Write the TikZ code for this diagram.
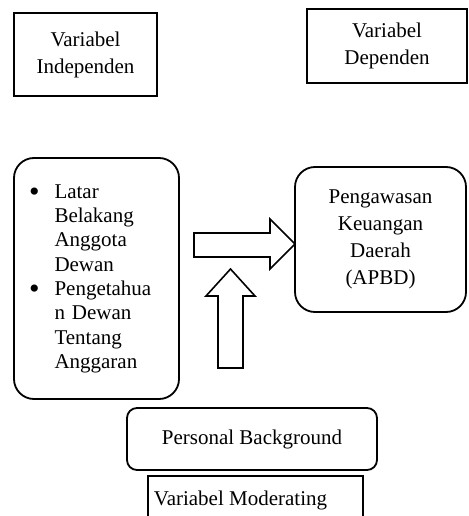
\documentclass[tikz,border=0pt]{standalone}
\usepackage{fontspec}
\setmainfont{Liberation Serif}
\newcommand{\bigbullet}{\raisebox{-3pt}{\fontsize{30}{24}\selectfont\textbullet}}
\begin{document}
\begin{tikzpicture}[x=1pt, y=-1pt, line width=1.8pt,
    box/.style={draw, align=center, inner sep=0pt, font=\fontsize{21}{27}\selectfont},
    roundbox/.style={box, rounded corners=20pt},
    blockarrow/.style={draw, line width=1.6pt, line join=miter}]
\useasboundingbox (0,0) rectangle (468,516);

\node[box, minimum width=143pt, minimum height=83pt] (indep) at (85.5,54.5) {Variabel\\Independen};
\node[box, minimum width=160pt, minimum height=74pt] (dep) at (387,46) {Variabel\\Dependen};

\node[roundbox, minimum width=165pt, minimum height=241pt, text width=135pt, align=left,
      font=\fontsize{21}{24.3}\selectfont] (latar) at (96.5,278.5)
  {\begin{tabular}{@{}l@{\hspace{15pt}}l@{}}
   \bigbullet & Latar\\
              & Belakang\\
              & Anggota\\
              & Dewan\\
   \bigbullet & Pengetahua\\
              & n Dewan\\
              & Tentang\\
              & Anggaran
   \end{tabular}};

\node[roundbox, minimum width=171pt, minimum height=145pt] (apbd) at (380.5,239.5)
  {Pengawasan\\Keuangan\\Daerah\\(APBD)};

\node[box, rounded corners=10pt, minimum width=250pt, minimum height=62pt] (personal) at (252,439)
  {Personal Background};

\node[anchor=base west, inner sep=0pt, font=\fontsize{21}{27}\selectfont] (moderating) at (153,505)
  {Variabel Moderating};
\draw (148,516) |- (363,476) -- (363,516);

% block arrows
\draw[blockarrow] (194,233)--(270,233)--(270,219)--(295,244)--(270,269)--(270,257)--(194,257)--cycle;
\draw[blockarrow] (218,368)--(218,296)--(206,296)--(230.5,269)--(255,296)--(243,296)--(243,368)--cycle;

\end{tikzpicture}
\end{document}
